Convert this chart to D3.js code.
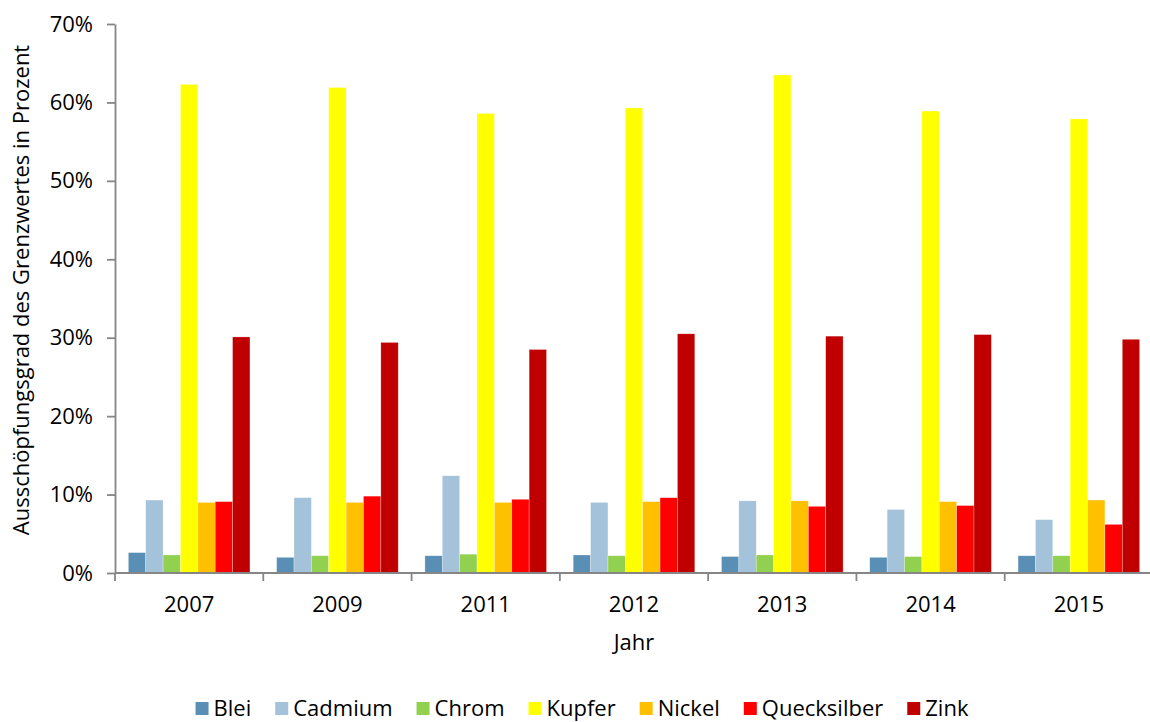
<!DOCTYPE html>
<html>
<head>
<meta charset="utf-8">
<script src="https://cdn.jsdelivr.net/npm/d3@7"></script>
<style>
  body { margin: 0; background: #fff; }
  text { font-family: "Open Sans", sans-serif; fill: #000; }
  .axis path, .axis line { stroke: #868686; stroke-width: 1.8px; }
</style>
</head>
<body>
<svg id="chart" width="1150" height="722"></svg>
<script>
// Ausschöpfungsgrad der Grenzwerte - grouped bar chart

var years = ["2007", "2009", "2011", "2012", "2013", "2014", "2015"];
var metals = ["Blei", "Cadmium", "Chrom", "Kupfer", "Nickel", "Quecksilber", "Zink"];
var metalColors = ["#5a8fb5", "#a4c2d9", "#92d050", "#ffff00", "#ffc000", "#ff0000", "#c00000"];

// values in percent, one array per metal (same order as years)
var blei        = [2.6, 2.0, 2.2, 2.3, 2.1, 2.0, 2.2];
var cadmium     = [9.3, 9.6, 12.4, 9.0, 9.2, 8.1, 6.8];
var chrom       = [2.3, 2.2, 2.4, 2.2, 2.3, 2.1, 2.2];
var kupfer      = [62.3, 61.9, 58.6, 59.3, 63.5, 58.9, 57.9];
var nickel      = [9.0, 9.0, 9.0, 9.1, 9.2, 9.1, 9.3];
var quecksilber = [9.1, 9.8, 9.4, 9.6, 8.5, 8.6, 6.2];
var zink        = [30.1, 29.4, 28.5, 30.5, 30.2, 30.4, 29.8];

var yTicks = [0, 10, 20, 30, 40, 50, 60, 70];

var seriesValues = [blei, cadmium, chrom, kupfer, nickel, quecksilber, zink];

var margin = {top: 24, left: 115, right: 1153, bottom: 573};

var svg = d3.select("#chart");

var x0 = d3.scaleBand()
    .domain(years)
    .range([margin.left, margin.right]);

var pad = x0.bandwidth() * 0.09;
var x1 = d3.scaleBand()
    .domain(metals)
    .range([pad, x0.bandwidth() - pad]);

var y = d3.scaleLinear()
    .domain([0, 70])
    .range([margin.bottom, margin.top]);

var colors = d3.scaleOrdinal()
    .domain(metals)
    .range(metalColors);

// rows: one per year, each with the metal values
var rows = years.map(function(yr, i) {
    return {
        year: yr,
        values: metals.map(function(m, j) { return {metal: m, value: seriesValues[j][i]}; })
    };
});

// bars
var group = svg.selectAll(".year")
    .data(rows)
    .enter().append("g")
    .attr("class", "year")
    .attr("transform", function(d) { return "translate(" + x0(d.year) + ",0)"; });

group.selectAll("rect")
    .data(function(d) { return d.values; })
    .enter().append("rect")
    .attr("x", function(d) { return x1(d.metal); })
    .attr("width", x1.bandwidth())
    .attr("y", function(d) { return y(d.value); })
    .attr("height", function(d) { return y(0) - y(d.value); })
    .style("fill", function(d) { return colors(d.metal); })
    .style("stroke", "#fff")
    .style("stroke-opacity", 0.45)
    .style("stroke-width", 0.6);

// y axis
var yaxis = d3.axisLeft(y)
    .tickValues(yTicks)
    .tickSize(8)
    .tickSizeOuter(0)
    .tickPadding(14)
    .tickFormat(function(d) { return d + "%"; });

svg.append("g")
    .attr("class", "y axis")
    .attr("transform", "translate(" + margin.left + ",0)")
    .call(yaxis)
    .selectAll("text")
    .style("font-size", "22px");

// x axis: ticks sit on the band edges
var xaxisG = svg.append("g")
    .attr("class", "x axis")
    .attr("transform", "translate(0," + margin.bottom + ")");

xaxisG.append("line")
    .attr("x1", margin.left)
    .attr("x2", margin.right)
    .attr("y1", 0)
    .attr("y2", 0);

xaxisG.selectAll(".edge")
    .data(years)
    .enter().append("line")
    .attr("class", "edge")
    .attr("x1", function(d) { return x0(d); })
    .attr("x2", function(d) { return x0(d); })
    .attr("y1", 0)
    .attr("y2", 8);

xaxisG.selectAll(".lbl")
    .data(years)
    .enter().append("text")
    .attr("class", "lbl")
    .attr("x", function(d) { return x0(d) + x0.bandwidth() / 2; })
    .attr("y", 39)
    .style("text-anchor", "middle")
    .style("font-size", "22px")
    .text(function(d) { return d; });

// axis titles
svg.append("text")
    .attr("x", (margin.left + margin.right) / 2)
    .attr("y", 650)
    .style("text-anchor", "middle")
    .style("font-size", "22px")
    .text("Jahr");

svg.append("text")
    .attr("transform", "translate(29,290) rotate(-90)")
    .style("text-anchor", "middle")
    .style("font-size", "22px")
    .text("Ausschöpfungsgrad des Grenzwertes in Prozent");

// legend, laid out by measured text width
var legend = svg.append("g").attr("class", "legend");
var lx = 0;
metals.forEach(function(m) {
    var item = legend.append("g").attr("transform", "translate(" + lx + ",0)");
    item.append("rect")
        .attr("x", 0)
        .attr("y", -6)
        .attr("width", 13)
        .attr("height", 13)
        .style("fill", colors(m));
    var t = item.append("text")
        .attr("x", 18)
        .attr("y", 8)
        .style("font-size", "22px")
        .text(m);
    lx += 18 + t.node().getComputedTextLength() + 24;
});
lx -= 24;
legend.attr("transform", "translate(" + (582 - lx / 2) + ",708)");
</script>
</body>
</html>
